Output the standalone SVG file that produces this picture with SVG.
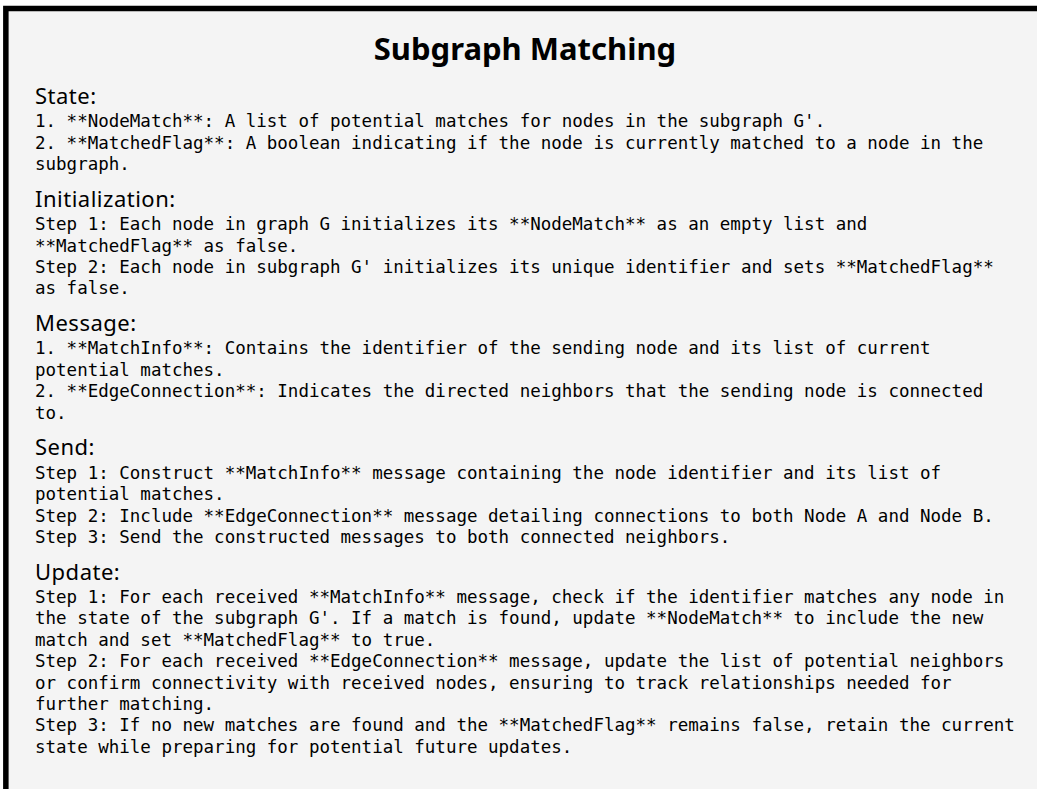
<svg xmlns="http://www.w3.org/2000/svg" width="1037" height="789" viewBox="0 0 1037 789">
<style>
.frame{fill:#f4f4f4;stroke:#000;stroke-width:5.5}
.title{font-family:"Noto Sans","DejaVu Sans",sans-serif;font-weight:bold;font-size:31px;fill:#000}
.head{font-family:"Noto Sans","DejaVu Sans",sans-serif;font-size:22px;letter-spacing:0.5px;fill:#000}
.body{font-family:"DejaVu Sans Mono","Liberation Mono",monospace;font-size:17.5px;fill:#000}
</style>
<rect x="0" y="0" width="1037" height="789" fill="#fff"/>
<rect class="frame" x="5.85" y="8.5" width="1100" height="850"/>
<g id="title"><text class="title" x="525" y="60" text-anchor="middle">Subgraph Matching</text></g>
<g id="state">
<text class="head" x="35" y="104">State:</text>
<text class="body" x="35" y="127.2">1. **NodeMatch**: A list of potential matches for nodes in the subgraph G'.</text>
<text class="body" x="35" y="148.6">2. **MatchedFlag**: A boolean indicating if the node is currently matched to a node in the</text>
<text class="body" x="35" y="170">subgraph.</text>
</g>
<g id="initialization">
<text class="head" x="35" y="206.8">Initialization:</text>
<text class="body" x="35" y="230.1">Step 1: Each node in graph G initializes its **NodeMatch** as an empty list and</text>
<text class="body" x="35" y="251.5">**MatchedFlag** as false.</text>
<text class="body" x="35" y="272.9">Step 2: Each node in subgraph G' initializes its unique identifier and sets **MatchedFlag**</text>
<text class="body" x="35" y="294.3">as false.</text>
</g>
<g id="message">
<text class="head" x="35" y="331.1">Message:</text>
<text class="body" x="35" y="354.4">1. **MatchInfo**: Contains the identifier of the sending node and its list of current</text>
<text class="body" x="35" y="375.8">potential matches.</text>
<text class="body" x="35" y="397.2">2. **EdgeConnection**: Indicates the directed neighbors that the sending node is connected</text>
<text class="body" x="35" y="418.6">to.</text>
</g>
<g id="send">
<text class="head" x="35" y="455.4">Send:</text>
<text class="body" x="35" y="478.7">Step 1: Construct **MatchInfo** message containing the node identifier and its list of</text>
<text class="body" x="35" y="500.1">potential matches.</text>
<text class="body" x="35" y="521.5">Step 2: Include **EdgeConnection** message detailing connections to both Node A and Node B.</text>
<text class="body" x="35" y="542.9">Step 3: Send the constructed messages to both connected neighbors.</text>
</g>
<g id="update">
<text class="head" x="35" y="579.7">Update:</text>
<text class="body" x="35" y="603">Step 1: For each received **MatchInfo** message, check if the identifier matches any node in</text>
<text class="body" x="35" y="624.4">the state of the subgraph G'. If a match is found, update **NodeMatch** to include the new</text>
<text class="body" x="35" y="645.8">match and set **MatchedFlag** to true.</text>
<text class="body" x="35" y="667.2">Step 2: For each received **EdgeConnection** message, update the list of potential neighbors</text>
<text class="body" x="35" y="688.6">or confirm connectivity with received nodes, ensuring to track relationships needed for</text>
<text class="body" x="35" y="710">further matching.</text>
<text class="body" x="35" y="731.4">Step 3: If no new matches are found and the **MatchedFlag** remains false, retain the current</text>
<text class="body" x="35" y="752.8">state while preparing for potential future updates.</text>
</g>
<g id="connectors"></g>
</svg>
